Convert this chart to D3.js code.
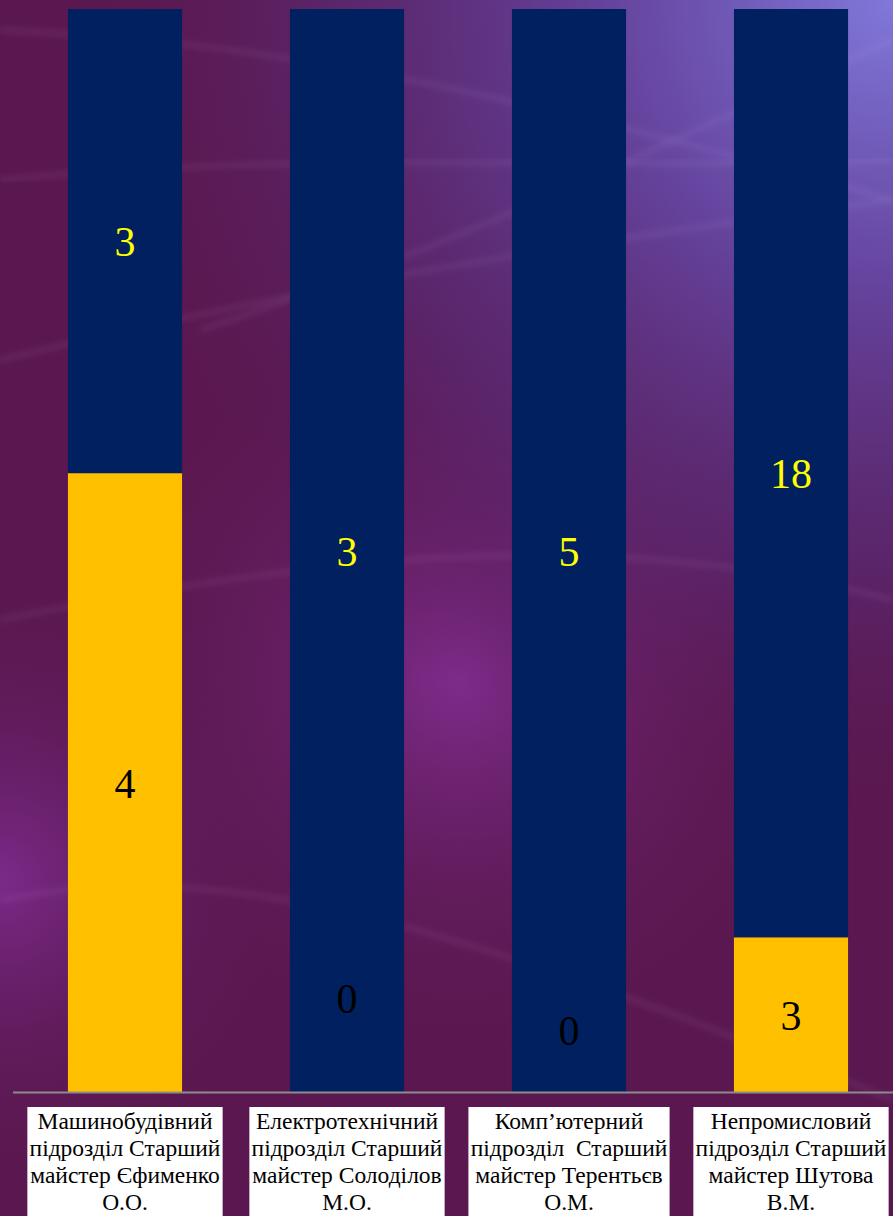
<!DOCTYPE html>
<html>
<head>
<meta charset="utf-8">
<script src="https://cdn.jsdelivr.net/npm/d3@7/dist/d3.min.js"></script>
<style>
  html, body { margin: 0; padding: 0; background: #5a1850; }
  svg { display: block; }
</style>
</head>
<body>
<script>
// chart data
var categories = [
    ["Машинобудівний", "підрозділ Старший", "майстер Єфименко", "О.О."],
    ["Електротехнічний", "підрозділ Старший", "майстер Солоділов", "М.О."],
    ["Комп’ютерний", "підрозділ  Старший", "майстер Терентьєв", "О.М."],
    ["Непромисловий", "підрозділ Старший", "майстер Шутова", "В.М."]
];
var seriesYellow = [4, 0, 0, 3];   // bottom segment
var seriesBlue = [3, 3, 5, 18];    // top segment

var width = 893, height = 1216;
var plotTop = 9, plotBottom = 1092;
var serif = "'Liberation Serif'";
// zero-value labels sit a bit above the base line (px)
var zeroLift = [40, 94, 62, 40];

var svg = d3.select("body").append("svg")
    .attr("width", width)
    .attr("height", height);

/*
  background: purple slide gradient with light streaks
*/
var defs = svg.append("defs");
var g1 = defs.append("radialGradient").attr("id", "tr")
    .attr("gradientUnits", "userSpaceOnUse")
    .attr("cx", 893).attr("cy", 0).attr("r", 820);
g1.append("stop").attr("offset", "0%").attr("stop-color", "#8078da");
g1.append("stop").attr("offset", "35%").attr("stop-color", "#6648a6").attr("stop-opacity", 0.9);
g1.append("stop").attr("offset", "70%").attr("stop-color", "#5a3080").attr("stop-opacity", 0.5);
g1.append("stop").attr("offset", "100%").attr("stop-color", "#5a1850").attr("stop-opacity", 0);

var g2 = defs.append("radialGradient").attr("id", "mid")
    .attr("gradientUnits", "userSpaceOnUse")
    .attr("cx", 460).attr("cy", 680).attr("r", 380);
g2.append("stop").attr("offset", "0%").attr("stop-color", "#7e2c8c");
g2.append("stop").attr("offset", "100%").attr("stop-color", "#5a1850").attr("stop-opacity", 0);

var g3 = defs.append("radialGradient").attr("id", "left")
    .attr("gradientUnits", "userSpaceOnUse")
    .attr("cx", 0).attr("cy", 880).attr("r", 300);
g3.append("stop").attr("offset", "0%").attr("stop-color", "#7a2a8a");
g3.append("stop").attr("offset", "100%").attr("stop-color", "#5a1850").attr("stop-opacity", 0);

defs.append("filter").attr("id", "blur")
    .append("feGaussianBlur").attr("stdDeviation", 3);

svg.append("rect").attr("width", width).attr("height", height).attr("fill", "#5b1850");
svg.append("rect").attr("width", width).attr("height", height).attr("fill", "url(#left)");
svg.append("rect").attr("width", width).attr("height", height).attr("fill", "url(#mid)");
svg.append("rect").attr("width", width).attr("height", height).attr("fill", "url(#tr)");

var streaks = [
    "M0,30 C200,40 400,60 893,200",
    "M0,360 C250,300 450,260 893,200",
    "M200,330 C450,250 650,150 893,40",
    "M0,620 C300,560 600,520 893,600",
    "M0,900 C200,860 400,900 893,1100",
    "M0,180 C300,150 600,170 893,160"
];
svg.append("g").selectAll("path").data(streaks).join("path")
    .attr("d", function(d) { return d; })
    .attr("fill", "none")
    .attr("stroke", "#e8d0ff")
    .attr("stroke-opacity", 0.1)
    .attr("stroke-width", 4)
    .attr("filter", "url(#blur)");

/*
  scales
*/
var x = d3.scaleBand()
    .domain(d3.range(categories.length))
    .range([14, 902])
    .paddingInner(0.486)
    .paddingOuter(0.243);

var y = d3.scaleLinear().domain([0, 1]).range([plotBottom, plotTop]);

var rows = categories.map(function(c, i) {
    var total = seriesYellow[i] + seriesBlue[i];
    return { i: i, yellow: seriesYellow[i] / total, blue: seriesBlue[i] / total };
});

// bars
var bars = svg.append("g");
bars.selectAll("rect.yellow").data(rows).join("rect")
    .attr("class", "yellow")
    .attr("x", function(d) { return x(d.i); })
    .attr("width", x.bandwidth())
    .attr("y", function(d) { return y(d.yellow); })
    .attr("height", function(d) { return y(0) - y(d.yellow); })
    .attr("fill", "#ffc000");
bars.selectAll("rect.blue").data(rows).join("rect")
    .attr("class", "blue")
    .attr("x", function(d) { return x(d.i); })
    .attr("width", x.bandwidth())
    .attr("y", function(d) { return y(1); })
    .attr("height", function(d) { return y(d.yellow) - y(1); })
    .attr("fill", "#002060");

// value labels
var labels = svg.append("g");
labels.selectAll("text.vb").data(rows).join("text")
    .attr("class", "vb")
    .style("font-family", serif)
    .style("font-size", "42px")
    .attr("text-anchor", "middle")
    .attr("x", function(d) { return x(d.i) + x.bandwidth() / 2; })
    .attr("y", function(d) { return (y(1) + y(d.yellow)) / 2 + 15; })
    .attr("fill", "#ffff00")
    .text(function(d) { return seriesBlue[d.i]; });
labels.selectAll("text.vy").data(rows).join("text")
    .attr("class", "vy")
    .style("font-family", serif)
    .style("font-size", "42px")
    .attr("text-anchor", "middle")
    .attr("x", function(d) { return x(d.i) + x.bandwidth() / 2; })
    .attr("y", function(d) {
        if (seriesYellow[d.i] === 0) return y(0) - zeroLift[d.i] + 15;
        return (y(0) + y(d.yellow)) / 2 + 15;
    })
    .attr("fill", "#000")
    .text(function(d) { return seriesYellow[d.i]; });

// base line
svg.append("line")
    .attr("x1", 13).attr("x2", width)
    .attr("y1", plotBottom + 0.5).attr("y2", plotBottom + 0.5)
    .attr("stroke", "#8c8c8c")
    .attr("stroke-width", 2);

// category labels in white boxes
var cat = svg.append("g");
categories.forEach(function(lines, i) {
    var cx = x(i) + x.bandwidth() / 2;
    var grp = cat.append("g");
    var box = grp.append("rect").attr("fill", "#fff");
    var t = grp.append("text")
        .style("font-family", serif)
        .style("font-size", "23.5px")
        .attr("fill", "#000")
        .attr("text-anchor", "middle")
        .style("white-space", "pre");
    lines.forEach(function(s, k) {
        t.append("tspan")
            .attr("x", cx)
            .attr("y", 1129 + k * 27)
            .text(s);
    });
    var bb = t.node().getBBox();
    var w = bb.width + 4;
    box.attr("x", cx - w / 2).attr("y", 1107)
        .attr("width", w).attr("height", height - 1107);
});
</script>
</body>
</html>
